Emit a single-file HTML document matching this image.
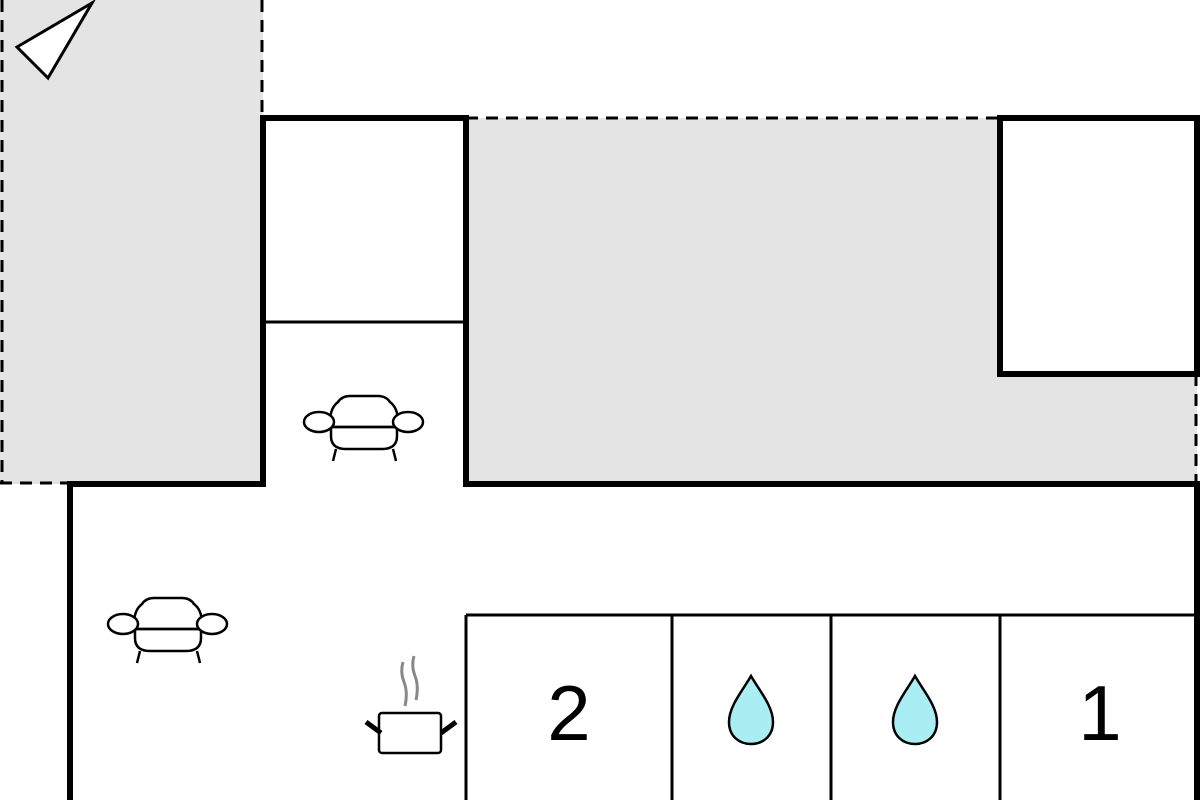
<!DOCTYPE html>
<html><head><style>html,body{margin:0;padding:0;background:#fff}svg{display:block}</style></head>
<body>
<svg width="1200" height="800" viewBox="0 0 1200 800" xmlns="http://www.w3.org/2000/svg">
<defs>
<g id="sofa" fill="#fff" stroke="#000" stroke-width="2.5">
<path d="M-28,27 L-31,39 M29,27 L32,39" fill="none"/>
<path d="M-33,4 L-33,14 Q-33,27 -18,27 L18,27 Q33,27 33,14 L33,4 Z"/>
<path d="M-34,0 Q-34,-14 -26,-20 Q-22,-26 -14,-26 L14,-26 Q22,-26 26,-20 Q34,-14 34,0 L34,5 L-34,5 Z"/>
<line x1="-32" y1="5" x2="32" y2="5"/>
<ellipse cx="-45" cy="0" rx="15" ry="10"/>
<ellipse cx="44" cy="0" rx="15" ry="10"/>
</g>
<g id="drop">
<path d="M0,-36 C8,-22 22,-6 22,10 C22,24 12,32 0,32 C-12,32 -22,24 -22,10 C-22,-6 -8,-22 0,-36 Z" fill="#a8eef2" stroke="#000" stroke-width="2.5"/>
</g>
</defs>
<rect x="0" y="0" width="263" height="484" fill="#e4e4e4"/>
<rect x="466" y="118" width="731" height="366" fill="#e4e4e4"/>
<rect x="998" y="118" width="199" height="256" fill="#fff"/>
<rect x="263" y="118" width="203" height="366" fill="#fff"/>
<g stroke="#000" stroke-width="3" stroke-dasharray="12,8" fill="none">
<line x1="2" y1="0" x2="2" y2="484"/>
<line x1="0" y1="483" x2="70" y2="483"/>
<line x1="262" y1="0" x2="262" y2="118"/>
<line x1="466" y1="118" x2="998" y2="118"/>
<line x1="1196" y1="374" x2="1196" y2="484"/>
</g>
<g stroke="#000" stroke-width="6" fill="none">
<polyline points="70,800 70,484 263,484 263,118 466,118 466,484 1197,484 1197,800"/>
<rect x="1000" y="118" width="197" height="256"/>
</g>
<g stroke="#000" stroke-width="3" fill="none">
<line x1="263" y1="322" x2="466" y2="322"/>
<line x1="466" y1="615" x2="1197" y2="615"/>
<line x1="466" y1="615" x2="466" y2="800"/>
<line x1="672" y1="615" x2="672" y2="800"/>
<line x1="831" y1="615" x2="831" y2="800"/>
<line x1="1000" y1="615" x2="1000" y2="800"/>
</g>
<polygon points="17,47 92,3 48,78" fill="#fff" stroke="#000" stroke-width="3"/>
<use href="#sofa" x="364" y="422"/>
<use href="#sofa" x="168" y="624"/>
<g stroke="#000" stroke-width="2.5" fill="#fff">
<rect x="379" y="713" width="62" height="40" rx="3"/>
<line x1="366" y1="722" x2="381" y2="733" stroke-width="5"/>
<line x1="456" y1="722" x2="441" y2="733" stroke-width="5"/>
</g>
<g stroke="#888" stroke-width="3" fill="none">
<path d="M403,662 Q400,672 404,682 Q408,692 405,706"/>
<path d="M414,656 Q411,666 415,676 Q419,686 416,700"/>
</g>
<text x="569" y="740" font-family="Liberation Sans, sans-serif" font-size="78" text-anchor="middle">2</text>
<text x="1100" y="740" font-family="Liberation Sans, sans-serif" font-size="78" text-anchor="middle">1</text>
<use href="#drop" x="751" y="712"/>
<use href="#drop" x="915" y="712"/>
</svg>
</body></html>
